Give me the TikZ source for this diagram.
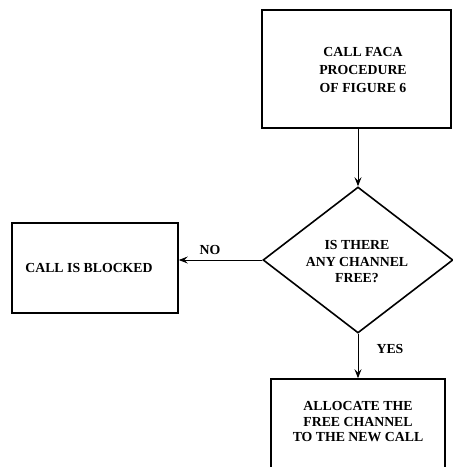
\documentclass[tikz,border=0pt]{standalone}
\usepackage{fontspec}
\setmainfont{Liberation Serif}
\usetikzlibrary{shapes.geometric,arrows.meta}
\begin{document}
\begin{tikzpicture}[x=1pt,y=-1pt,
  every node/.style={font=\bfseries\fontsize{13.8}{16.5}\selectfont, align=center},
  box/.style={draw, line width=1.6pt, rectangle, inner sep=0pt},
  dec/.style={draw, line width=1.6pt, diamond, inner sep=0pt, minimum width=190pt, minimum height=146pt},
  conn/.style={line width=0.9pt, -{Stealth[length=9pt,width=7pt,inset=3.5pt]}},
  lab/.style={inner sep=0pt}]
\useasboundingbox (0,0) rectangle (453,467);
\clip (0,0) rectangle (453,467);
\node[box, minimum width=189pt, minimum height=118pt] (top) at (356.5,69) {};
\node[lab, font=\bfseries\fontsize{13.8}{18}\selectfont] (toptext) at (363,70) {CALL FACA\\PROCEDURE\\OF FIGURE 6};
\node[dec] (d) at (358,260) {};
\node[lab] (dtext) at (357,262) {IS THERE\\ANY CHANNEL\\FREE?};
\node[box, minimum width=166pt, minimum height=90pt] (blk) at (95,268) {};
\node[lab] (blktext) at (89,268) {CALL IS BLOCKED};
\node[box, minimum width=174pt, minimum height=100pt] (alloc) at (358,429) {};
\node[lab, font=\bfseries\fontsize{13.8}{15.5}\selectfont] (alloctext) at (358,422) {ALLOCATE THE\\FREE CHANNEL\\TO THE NEW CALL};
\draw[conn] (top.south -| d.north) -- (d.north);
\draw[conn] (d.west) -- (blk.east |- d.west);
\draw[conn] (d.south) -- (alloc.north);
\node[lab] (no) at (210,250) {NO};
\node[lab] (yes) at (390,349) {YES};
\end{tikzpicture}
\end{document}
